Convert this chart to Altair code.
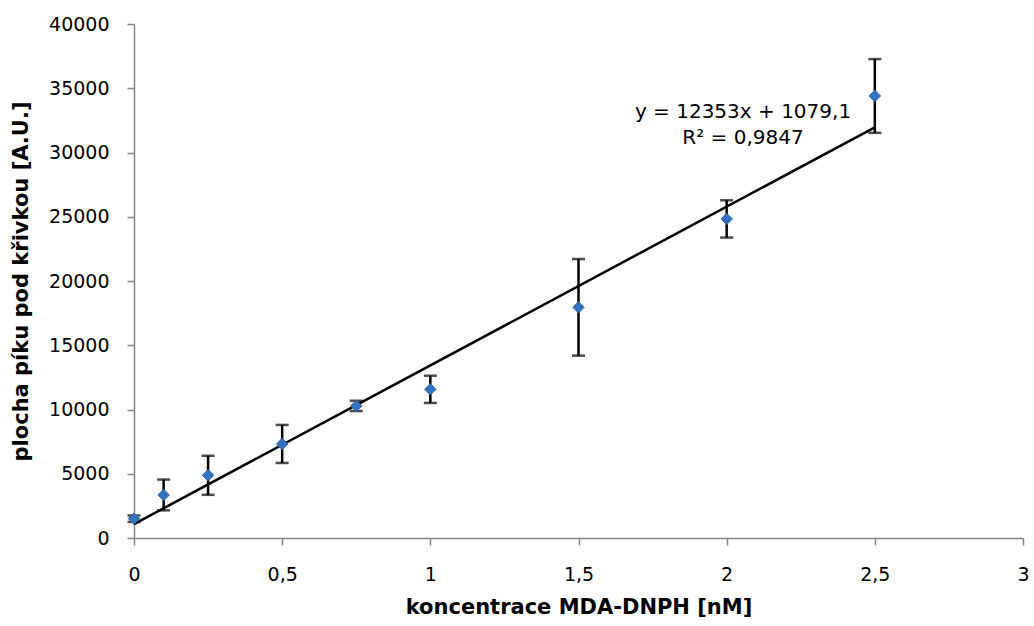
import altair as alt
import pandas as pd

conc = [0, 0.1, 0.25, 0.5, 0.75, 1.0, 1.5, 2.0, 2.5]
area = [1500, 3350, 4880, 7320, 10280, 11570, 17950, 24830, 34400]
err = [250, 1200, 1520, 1480, 400, 1060, 3760, 1450, 2870]

slope = 12353
intercept = 1079.1
trend_x = [0, 2.5]

eq_lines = ["y = 12353x + 1079,1", "R² = 0,9847"]

df = pd.DataFrame({"x": conc, "y": area, "e": err})
df["lo"] = df["y"] - df["e"]
df["hi"] = df["y"] + df["e"]
tr = pd.DataFrame({"x": trend_x})
tr["y"] = slope * tr["x"] + intercept

font = "DejaVu Sans"
xscale = alt.Scale(domain=[0, 3], nice=False)
yscale = alt.Scale(domain=[0, 40000], nice=False)

xaxis = alt.Axis(values=[0, 0.5, 1, 1.5, 2, 2.5, 3],
                 labelExpr="replace(format(datum.value, '~g'), '.', ',')",
                 title="koncentrace MDA-DNPH [nM]", grid=False, domainColor="#868686",
                 tickColor="#868686", domainWidth=1.5, tickWidth=1.5, tickSize=7,
                 labelFontSize=19, labelFont=font, labelColor="#000", labelPadding=20,
                 titleFontSize=21, titleFont=font, titleFontWeight="bold", titleColor="#000",
                 titlePadding=12, labelFlush=False)
yaxis = alt.Axis(values=list(range(0, 40001, 5000)), format="d",
                 title="plocha píku pod křivkou [A.U.]", grid=False, domainColor="#868686",
                 tickColor="#868686", domainWidth=1.5, tickWidth=1.5, tickSize=7,
                 labelFontSize=19, labelFont=font, labelColor="#000", labelPadding=18,
                 titleFontSize=21, titleFont=font, titleFontWeight="bold", titleColor="#000",
                 titlePadding=17)

base = alt.Chart(df)

line = alt.Chart(tr).mark_line(color="#000", strokeWidth=2.5).encode(
    x=alt.X("x:Q", scale=xscale, axis=xaxis),
    y=alt.Y("y:Q", scale=yscale, axis=yaxis),
)
rules = base.mark_rule(color="#000", strokeWidth=2.5).encode(
    x=alt.X("x:Q", scale=xscale), y=alt.Y("lo:Q", scale=yscale), y2="hi:Q")
caps_lo = base.mark_tick(color="#000", orient="horizontal", size=13, thickness=2.5).encode(
    x=alt.X("x:Q", scale=xscale), y=alt.Y("lo:Q", scale=yscale))
caps_hi = base.mark_tick(color="#000", orient="horizontal", size=13, thickness=2.5).encode(
    x=alt.X("x:Q", scale=xscale), y=alt.Y("hi:Q", scale=yscale))
pts = base.mark_point(shape="diamond", filled=True, color="#3573BF", size=130, opacity=1,
                      stroke="#2A63AC", strokeWidth=1).encode(
    x=alt.X("x:Q", scale=xscale), y=alt.Y("y:Q", scale=yscale))

txt1 = alt.Chart(pd.DataFrame({"t": [eq_lines[0]]})).mark_text(
    fontSize=20, font=font, color="#000", align="center", baseline="middle").encode(
    x=alt.value(609), y=alt.value(88), text="t:N")
txt2 = alt.Chart(pd.DataFrame({"t": [eq_lines[1]]})).mark_text(
    fontSize=20, font=font, color="#000", align="center", baseline="middle").encode(
    x=alt.value(609), y=alt.value(114), text="t:N")

chart = alt.layer(line, rules, caps_lo, caps_hi, pts, txt1, txt2).properties(
    width=889, height=514,
    padding={"left": 134, "top": 24, "right": 11, "bottom": 88},
    autosize=alt.AutoSizeParams(type="none"),
    background="white",
).configure_view(stroke=None)

chart.save("out.html", embed_options={"renderer": "svg", "actions": False})
